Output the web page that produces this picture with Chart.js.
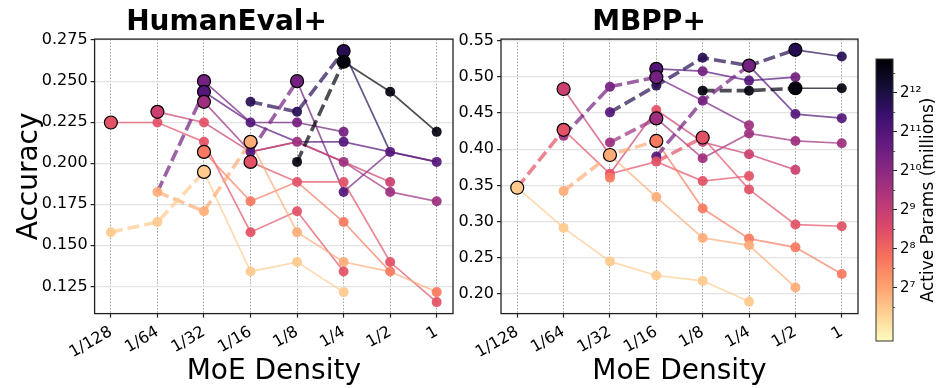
<!DOCTYPE html>
<html><head><meta charset="utf-8">
<script src="https://cdn.jsdelivr.net/npm/chart.js@4.4.1/dist/chart.umd.min.js"></script>
<style>
html,body{margin:0;padding:0;background:#fff;}
#wrap{position:relative;width:943px;height:388px;overflow:hidden;background:#fff;}
.box{position:absolute;top:0;height:388px;}
canvas{display:block;}
</style></head><body>
<div id="wrap">
<div class="box" style="left:0;width:470px"><canvas id="he" width="470" height="388"></canvas></div>
<div class="box" style="left:440px;width:435px"><canvas id="mb" width="435" height="388"></canvas></div>
<div class="box" style="left:860px;width:83px"><canvas id="cb" width="83" height="388"></canvas></div>
</div>
<script>
// ================= DATA =================
const densityLabels = ['1/128','1/64','1/32','1/16','1/8','1/4','1/2','1'];
const densityLog2   = [-7,-6,-5,-4,-3,-2,-1,0];

// active params per model family, log2(millions)
const A = 6.44, B = 6.87, C = 7.66, D = 8.39, E = 8.89, F = 9.69, G = 10.41, H = 10.99, I = 11.79, J = 12.73;
// colorbar range (log2 millions) and ticks
const cbMin = 5.64, cbMax = 12.87;
const cbTicks = [7, 8, 9, 10, 11, 12];

const heYTicks = [0.125, 0.150, 0.175, 0.200, 0.225, 0.250, 0.275];
const mbYTicks = [0.20, 0.25, 0.30, 0.35, 0.40, 0.45, 0.50, 0.55];

const n = null;
// ---- HumanEval+ ----
const heSolidLevel = [A, B, C, D, D, E, F, G, H, G, I, J];
const heSolidAcc = [
  [n, n, 0.1947, 0.134, 0.1398, 0.1215, n, n],
  [n, n, n, 0.213, 0.158, 0.1398, 0.134, 0.1215],
  [n, n, 0.2069, 0.1768, 0.1886, 0.1642, 0.134, n],
  [0.2248, 0.2248, 0.213, 0.158, 0.1707, 0.134, n, n],
  [n, n, n, 0.2008, 0.1886, 0.1886, 0.1398, 0.1154],
  [n, 0.2313, 0.2248, 0.2069, 0.213, 0.2008, 0.1886, n],
  [n, n, 0.2374, 0.2069, 0.213, 0.2008, 0.1825, 0.1768],
  [n, n, 0.250, 0.2248, 0.2248, 0.2191, n, n],
  [n, n, 0.2435, 0.2248, 0.213, 0.213, 0.2069, 0.2008],
  [n, n, n, n, 0.250, 0.1825, 0.2069, 0.2008],
  [n, n, n, n, n, 0.2683, 0.2069, n],
  [n, n, n, n, n, 0.2618, 0.2435, 0.2191]
];
const heDashLevel = [A, B, G, G, I, J];
const heDashAcc = [
  [0.158, 0.1642, 0.1947, n, n, n, n, n],
  [n, 0.1825, 0.1707, 0.213, n, n, n, n],
  [n, 0.1825, 0.2435, n, n, n, n, n],
  [n, n, n, 0.2069, 0.250, n, n, n],
  [n, n, n, 0.2374, 0.2313, 0.2683, n, n],
  [n, n, n, n, 0.2008, 0.2618, n, n]
];
// [density index, accuracy, level]
const heSmall = [
  [0,0.158,A],
  [1,0.2248,D],[1,0.1825,B],[1,0.1642,A],
  [2,0.2248,D],[2,0.213,D],[2,0.1707,B],
  [3,0.2374,I],[3,0.2248,H],[3,0.2069,H],[3,0.1768,C],[3,0.158,D],[3,0.134,A],
  [4,0.2313,I],[4,0.2248,G],[4,0.213,F],[4,0.2008,J],[4,0.1886,D],[4,0.1707,D],[4,0.158,B],[4,0.1398,A],
  [5,0.2191,G],[5,0.213,H],[5,0.2008,F],[5,0.1886,D],[5,0.1825,H],[5,0.1642,C],[5,0.1398,B],[5,0.134,D],[5,0.1215,A],
  [6,0.2435,J],[6,0.2069,H],[6,0.1886,E],[6,0.1825,F],[6,0.1398,D],[6,0.134,C],
  [7,0.2191,J],[7,0.2008,H],[7,0.1768,F],[7,0.1215,C],[7,0.1154,D]
];
const heBig = [
  [0,0.2248,D],[1,0.2313,E],[2,0.250,G],[2,0.2435,H],[2,0.2374,F],[2,0.2069,C],[2,0.1947,A],
  [3,0.213,B],[3,0.2008,D],[4,0.250,G],[5,0.2683,I],[5,0.2618,J]
];

// ---- MBPP+ ----
const mbSolidLevel = [A, B, C, D, D, E, E, F, G, H, H, I, J];
const mbSolidAcc = [
  [0.3468, 0.2912, 0.2449, 0.2254, 0.218, 0.1893, n, n],
  [n, n, 0.392, 0.3338, 0.2773, 0.2671, 0.2088, n],
  [n, n, n, 0.4115, 0.318, 0.2764, 0.2643, 0.2274],
  [n, n, n, n, 0.4162, 0.3444, 0.2958, 0.2935],
  [n, 0.4268, 0.366, 0.3829, 0.356, 0.363, n, n],
  [n, 0.4833, 0.392, n, n, n, n, n],
  [n, n, 0.366, 0.4542, 0.41, 0.393, 0.3715, n],
  [n, n, n, 0.4426, 0.3875, 0.4218, 0.4115, 0.4083],
  [n, n, n, 0.4996, 0.4671, 0.4333, n, n],
  [n, n, n, 0.5111, 0.5079, 0.4949, 0.4996, n],
  [n, n, n, n, n, 0.5157, 0.4486, 0.443],
  [n, n, n, n, n, n, 0.5375, 0.5282],
  [n, n, n, n, n, n, 0.4843, 0.4843]
];
const mbDashLevel = [D, B, G, F, I, G, D, J];
const mbDashAcc = [
  [0.3468, 0.4268, n, n, n, n, n, n],
  [n, 0.3421, 0.392, 0.4115, n, n, n, n],
  [n, 0.4185, 0.4865, 0.4996, n, n, n, n],
  [n, n, 0.4093, 0.4426, n, n, n, n],
  [n, n, 0.451, 0.488, 0.5264, 0.5157, 0.5375, n],
  [n, n, n, 0.3899, 0.4671, 0.5157, n, n],
  [n, n, n, 0.3829, 0.4162, n, n, n],
  [n, n, n, n, 0.481, 0.481, 0.4843, n]
];
const mbSmall = [
  [1,0.4185,F],[1,0.3421,B],[1,0.2912,A],
  [2,0.4865,G],[2,0.451,H],[2,0.4093,F],[2,0.366,D],[2,0.3607,C],[2,0.2449,A],
  [3,0.488,I],[3,0.4542,D],[3,0.3899,H],[3,0.3829,D],[3,0.3338,B],[3,0.2254,A],
  [4,0.5264,I],[4,0.5079,G],[4,0.481,J],[4,0.4671,G],[4,0.41,E],[4,0.3875,F],[4,0.356,D],[4,0.318,C],[4,0.2773,B],[4,0.218,A],
  [5,0.4949,H],[5,0.481,J],[5,0.4333,F],[5,0.4218,F],[5,0.393,E],[5,0.363,D],[5,0.3444,D],[5,0.2764,C],[5,0.2671,B],[5,0.1893,A],
  [6,0.4996,G],[6,0.4486,H],[6,0.4115,F],[6,0.3715,E],[6,0.2958,D],[6,0.2643,C],[6,0.2088,B],
  [7,0.5282,I],[7,0.4843,J],[7,0.443,H],[7,0.4083,F],[7,0.2935,D],[7,0.2274,C]
];
const mbBig = [
  [0,0.3468,A],[1,0.4833,E],[1,0.4268,D],[2,0.392,B],[3,0.5111,H],[3,0.4996,G],[3,0.4426,F],[3,0.4115,C],
  [4,0.4162,D],[5,0.5157,G],[6,0.5375,I],[6,0.4843,J]
];

// ================= COLORS =================
const MAGMA = [[0,0,4],[20,14,54],[59,15,112],[100,26,128],[140,41,129],[183,55,121],[222,73,104],[247,112,92],[254,159,109],[254,207,146],[252,253,191]];
function magma(m){
  m = Math.min(1, Math.max(0, m));
  const f = m * 10, i = Math.min(9, Math.floor(f)), r = f - i;
  const a = MAGMA[i], b = MAGMA[i + 1];
  return a.map((v, k) => Math.round(v + (b[k] - v) * r));
}
function levelColor(lv, alpha){
  const t = (lv - cbMin) / (cbMax - cbMin);
  const c = magma(1 - t);
  return `rgba(${c[0]},${c[1]},${c[2]},${alpha})`;
}

// ================= CHARTS =================
const FONT = "'DejaVu Sans', sans-serif";
Chart.defaults.font.family = FONT;
Chart.defaults.color = '#000';

function pts(acc){
  const out = [];
  acc.forEach((v, i) => { if (v !== null) out.push({x: densityLog2[i], y: v}); });
  return out;
}
function panelDatasets(solidLv, solidAcc, dashLv, dashAcc, small, big){
  const ds = [];
  solidAcc.forEach((acc, k) => ds.push({data: pts(acc), showLine: true, borderColor: levelColor(solidLv[k], 0.7),
    borderWidth: 1.7, pointRadius: 0, pointHoverRadius: 0, order: 4}));
  dashAcc.forEach((acc, k) => ds.push({data: pts(acc), showLine: true, borderColor: levelColor(dashLv[k], 0.7),
    borderWidth: 3.6, borderDash: [12, 5], borderCapStyle: 'butt', pointRadius: 0, pointHoverRadius: 0, order: 3}));
  ds.push({data: small.map(p => ({x: densityLog2[p[0]], y: p[1]})), showLine: false, pointRadius: 5,
    pointBackgroundColor: small.map(p => levelColor(p[2], 0.92)), pointBorderWidth: 0,
    pointBorderColor: 'rgba(0,0,0,0)', order: 2});
  ds.push({data: big.map(p => ({x: densityLog2[p[0]], y: p[1]})), showLine: false, pointRadius: 6.5,
    pointBackgroundColor: big.map(p => levelColor(p[2], 1)), pointBorderWidth: 1.2,
    pointBorderColor: '#000', order: 1});
  return ds;
}

const framePlugin = {
  id: 'frame',
  afterDraw(chart){
    const {ctx, chartArea: a} = chart;
    ctx.save();
    ctx.strokeStyle = '#222';
    ctx.lineWidth = 1.3;
    ctx.strokeRect(a.left, a.top, a.right - a.left, a.bottom - a.top);
    ctx.restore();
  }
};

function panelOptions(title, yMin, yMax, yTicks, dec, yTitle, yWidth, rightPad){
  return {
    responsive: false, animation: false, devicePixelRatio: 1,
    layout: {padding: {left: 0, right: rightPad, top: 0, bottom: 0}},
    plugins: {
      legend: {display: false}, tooltip: {enabled: false},
      title: {display: true, text: title, color: '#000',
        font: {family: FONT, size: 28, weight: 'bold', lineHeight: 1.2}, padding: {top: 5.5, bottom: 0}}
    },
    scales: {
      x: {
        type: 'linear', min: -7.35, max: 0.35,
        afterBuildTicks: s => { s.ticks = densityLog2.map(v => ({value: v})); },
        afterFit: s => { s.height = 74.4; },
        ticks: {callback: v => densityLabels[densityLog2.indexOf(v)], minRotation: 30, maxRotation: 30,
          font: {family: FONT, size: 16}, color: '#000', padding: 5, autoSkip: false},
        grid: {color: '#9a9a9a', lineWidth: 0.9, tickLength: 4, tickColor: '#222', tickWidth: 1.2},
        border: {display: false, dash: [1.6, 1.6]},
        title: {display: true, text: 'MoE Density', color: '#000',
          font: {family: FONT, size: 28, lineHeight: 1}, padding: {top: 0, bottom: 2.5}}
      },
      y: {
        type: 'linear', min: yMin, max: yMax,
        afterBuildTicks: s => { s.ticks = yTicks.map(v => ({value: v})); },
        afterFit: s => { s.width = yWidth; },
        ticks: {callback: v => v.toFixed(dec), font: {family: FONT, size: 16}, color: '#000', padding: 3},
        grid: {color: '#e3e3e3', lineWidth: 1.2, tickLength: 4, tickColor: '#222', tickWidth: 1.2},
        border: {display: false},
        title: {display: !!yTitle, text: yTitle || '', color: '#000',
          font: {family: FONT, size: 28, lineHeight: 1}, padding: {top: 16, bottom: 0}}
      }
    }
  };
}

new Chart(document.getElementById('he'), {
  type: 'scatter',
  data: {datasets: panelDatasets(heSolidLevel, heSolidAcc, heDashLevel, heDashAcc, heSmall, heBig)},
  options: panelOptions('HumanEval+', 0.1084, 0.2756, heYTicks, 3, 'Accuracy', 94.6, 17),
  plugins: [framePlugin]
});
new Chart(document.getElementById('mb'), {
  type: 'scatter',
  data: {datasets: panelDatasets(mbSolidLevel, mbSolidAcc, mbDashLevel, mbDashAcc, mbSmall, mbBig)},
  options: panelOptions('MBPP+', 0.1727, 0.5523, mbYTicks, 2, null, 61, 17),
  plugins: [framePlugin]
});

// ---- colorbar ----
const SUP = {'0':'⁰','1':'¹','2':'²','3':'³','4':'⁴','5':'⁵','6':'⁶','7':'⁷','8':'⁸','9':'⁹'};
const sup = v => String(v).split('').map(c => SUP[c]).join('');
const cbPlugin = {
  id: 'cbar',
  beforeDraw(chart){
    const {ctx, chartArea: a} = chart;
    const g = ctx.createLinearGradient(0, a.top, 0, a.bottom);
    for (let s = 0; s <= 20; s++){ const c = magma(s / 20); g.addColorStop(s / 20, `rgb(${c[0]},${c[1]},${c[2]})`); }
    ctx.save();
    ctx.fillStyle = g;
    ctx.fillRect(a.left, a.top, a.right - a.left, a.bottom - a.top);
    ctx.restore();
  },
  afterDraw(chart){
    const {ctx, chartArea: a} = chart;
    const y = chart.scales.y;
    ctx.save();
    ctx.strokeStyle = '#333';
    ctx.lineWidth = 1;
    ctx.strokeRect(a.left, a.top, a.right - a.left, a.bottom - a.top);
    ctx.lineWidth = 0.8;
    for (let k = cbTicks[0] - 0.5; k <= cbMax; k += 1){
      if (k < cbMin) continue;
      const py = Math.round(y.getPixelForValue(k)) + 0.5;
      ctx.beginPath(); ctx.moveTo(a.right, py); ctx.lineTo(a.right + 2.2, py); ctx.stroke();
    }
    ctx.fillStyle = '#000';
    ctx.font = `17px ${FONT}`;
    ctx.textAlign = 'center';
    ctx.textBaseline = 'middle';
    ctx.translate(69, (a.top + a.bottom) / 2);
    ctx.rotate(-Math.PI / 2);
    ctx.fillText('Active Params (millions)', 0, 0);
    ctx.restore();
  }
};
new Chart(document.getElementById('cb'), {
  type: 'scatter',
  data: {datasets: []},
  options: {
    responsive: false, animation: false, devicePixelRatio: 1,
    layout: {padding: {left: 16, right: 0, top: 59, bottom: 47}},
    plugins: {legend: {display: false}, tooltip: {enabled: false}},
    scales: {
      x: {type: 'linear', display: false, min: 0, max: 1},
      y: {
        type: 'linear', position: 'right', min: cbMin, max: cbMax,
        afterBuildTicks: s => { s.ticks = cbTicks.map(v => ({value: v})); },
        afterFit: s => { s.width = 50; },
        ticks: {callback: v => '2' + sup(v), font: {family: FONT, size: 15}, color: '#000', padding: 3},
        grid: {drawOnChartArea: false, tickLength: 4, tickColor: '#222', tickWidth: 1},
        border: {display: false}
      }
    }
  },
  plugins: [cbPlugin]
});
</script>
</body></html>
